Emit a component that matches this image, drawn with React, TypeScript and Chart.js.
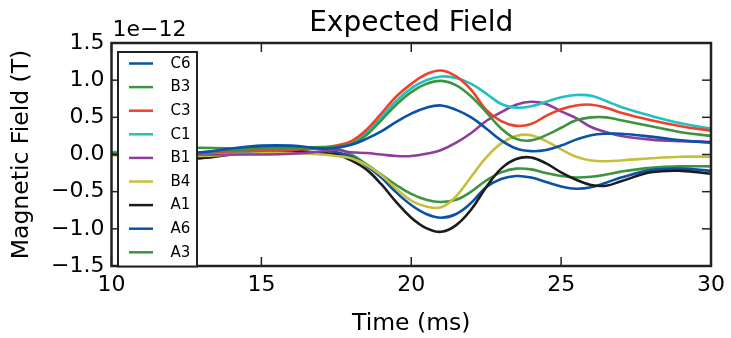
import { useEffect, useRef } from 'react';
import { Chart, registerables } from 'chart.js';

Chart.register(...registerables);

const FONT = '"DejaVu Sans", sans-serif';

// time axis (ms)
const times = [10, 11, 12, 13, 14, 15, 16, 17, 17.5, 18, 18.5, 19, 19.5, 20, 20.5, 21, 21.5, 22, 22.5, 23, 23.5, 24, 24.5, 25, 25.5, 26, 26.5, 27, 28, 29, 30];

// magnetic field, in units of 1e-12 T
const C6 = [0, 0, 0.01, 0.03, 0.08, 0.12, 0.12, 0.08, 0.09, 0.13, 0.21, 0.31, 0.44, 0.55, 0.63, 0.66, 0.6, 0.5, 0.35, 0.19, 0.08, 0.045, 0.06, 0.12, 0.2, 0.26, 0.28, 0.28, 0.24, 0.19, 0.16];
const B3 = [0.02, 0.01, 0.01, 0.03, 0.06, 0.08, 0.09, 0.1, 0.11, 0.14, 0.26, 0.46, 0.67, 0.84, 0.95, 0.99, 0.93, 0.78, 0.57, 0.35, 0.21, 0.19, 0.26, 0.36, 0.46, 0.5, 0.5, 0.46, 0.38, 0.3, 0.25];
const C3 = [0, 0, 0, 0.02, 0.04, 0.05, 0.06, 0.09, 0.12, 0.18, 0.33, 0.55, 0.78, 0.95, 1.08, 1.13, 1.05, 0.87, 0.6, 0.45, 0.385, 0.41, 0.52, 0.61, 0.66, 0.67, 0.63, 0.56, 0.46, 0.38, 0.32];
const C1 = [0.03, 0.02, 0.01, 0.02, 0.03, 0.05, 0.07, 0.09, 0.1, 0.15, 0.29, 0.5, 0.72, 0.89, 1.0, 1.05, 1.03, 0.95, 0.82, 0.68, 0.63, 0.65, 0.71, 0.77, 0.8, 0.79, 0.72, 0.64, 0.52, 0.42, 0.35];
const B1 = [0, 0, -0.01, 0, 0, 0, 0.01, 0.04, 0.06, 0.03, 0.02, 0, -0.02, -0.02, 0.01, 0.06, 0.16, 0.29, 0.45, 0.57, 0.67, 0.71, 0.68, 0.58, 0.49, 0.37, 0.3, 0.25, 0.2, 0.18, 0.17];
const B4 = [-0.01, -0.01, -0.02, -0.02, 0, 0.02, 0.02, 0, -0.02, -0.05, -0.14, -0.28, -0.46, -0.62, -0.7, -0.71, -0.56, -0.3, -0.04, 0.15, 0.25, 0.26, 0.18, 0.07, -0.03, -0.08, -0.09, -0.08, -0.05, -0.03, -0.03];
const A1 = [0.02, 0, -0.04, -0.05, 0, 0.05, 0.05, 0.02, 0, -0.08, -0.2, -0.4, -0.64, -0.85, -0.99, -1.04, -0.95, -0.74, -0.44, -0.19, -0.06, -0.04, -0.12, -0.24, -0.34, -0.41, -0.42, -0.36, -0.24, -0.22, -0.26];
const A6 = [0, 0.01, 0, 0, 0.05, 0.1, 0.1, 0.07, 0.03, -0.03, -0.15, -0.31, -0.51, -0.68, -0.8, -0.85, -0.8, -0.65, -0.44, -0.33, -0.29, -0.31, -0.37, -0.43, -0.46, -0.44, -0.38, -0.31, -0.21, -0.19, -0.22];
const A3 = [0.03, 0.05, 0.08, 0.09, 0.08, 0.06, 0.06, 0.08, 0.08, 0, -0.13, -0.27, -0.41, -0.53, -0.61, -0.64, -0.61, -0.5, -0.35, -0.24, -0.19, -0.2, -0.25, -0.29, -0.31, -0.3, -0.27, -0.23, -0.18, -0.16, -0.16];

const seriesLabels = ['C6', 'B3', 'C3', 'C1', 'B1', 'B4', 'A1', 'A6', 'A3'];
const seriesValues = [C6, B3, C3, C1, B1, B4, A1, A6, A3];
const seriesColors = ['#0a52a6', '#3d9440', '#f0402b', '#22c1c1', '#8e3c9d', '#c5bf3a', '#1c1c1c', '#0a52a6', '#3d9440'];

const xTicks = [10, 15, 20, 25, 30];
const yTicks = [-1.5, -1.0, -0.5, 0, 0.5, 1.0, 1.5];

const titleText = 'Expected Field';
const offsetText = '1e\u221212';
const xTitle = 'Time (ms)';
const yTitle = 'Magnetic Field (T)';

const fmtY = (v: number) => (v < 0 ? '\u2212' : '') + Math.abs(v).toFixed(1);

const mplPlugin = {
  id: 'mplDecor',
  afterDatasetsDraw(chart: any) {
    const { ctx, chartArea: a, scales } = chart;
    ctx.save();
    const seg = (x1: number, y1: number, x2: number, y2: number) => {
      ctx.beginPath();
      ctx.moveTo(x1, y1);
      ctx.lineTo(x2, y2);
      ctx.stroke();
    };
    // inward ticks on all four sides
    ctx.strokeStyle = '#222';
    ctx.lineWidth = 1.5;
    const tl = 9;
    xTicks.forEach((v) => {
      const px = scales.x.getPixelForValue(v);
      seg(px, a.bottom, px, a.bottom - tl);
      seg(px, a.top, px, a.top + tl);
    });
    yTicks.forEach((v) => {
      const py = scales.y.getPixelForValue(v);
      seg(a.left, py, a.left + tl, py);
      seg(a.right, py, a.right - tl, py);
    });
    // frame
    ctx.lineWidth = 2.5;
    ctx.strokeRect(a.left, a.top, a.right - a.left, a.bottom - a.top);

    // legend
    const lx = a.left + 6.5;
    const ly = a.top + 9;
    const lw = 79;
    const lh = a.bottom + 0.5 - ly;
    ctx.fillStyle = '#ffffff';
    ctx.fillRect(lx, ly, lw, lh);
    ctx.lineWidth = 2;
    ctx.strokeStyle = '#222';
    ctx.strokeRect(lx, ly, lw, lh);
    ctx.font = '15px ' + FONT;
    ctx.textBaseline = 'middle';
    ctx.textAlign = 'left';
    chart.data.datasets.forEach((ds: any, i: number) => {
      const yy = ly + 11.5 + i * 23.6;
      ctx.strokeStyle = ds.borderColor;
      ctx.lineWidth = 2.5;
      seg(lx + 11, yy, lx + 35, yy);
      ctx.fillStyle = '#000';
      ctx.fillText(ds.label, lx + 52.5, yy + 0.5);
    });

    // title and offset text
    ctx.fillStyle = '#000';
    ctx.textBaseline = 'alphabetic';
    ctx.textAlign = 'center';
    ctx.font = '28px ' + FONT;
    ctx.fillText(titleText, (a.left + a.right) / 2, 31);
    ctx.textAlign = 'left';
    ctx.font = '22px ' + FONT;
    ctx.fillText(offsetText, a.left + 1, 36);
    ctx.restore();
  },
};

export default function App() {
  const ref = useRef<HTMLCanvasElement | null>(null);
  useEffect(() => {
    document.body.style.margin = '0';
    if (!ref.current) return;
    const chart = new Chart(ref.current, {
      type: 'line',
      data: {
        datasets: seriesLabels.map((label, i) => ({
          label,
          data: times.map((t, j) => ({ x: t, y: seriesValues[i][j] })),
          borderColor: seriesColors[i],
          backgroundColor: seriesColors[i],
          borderWidth: 2.6,
          pointRadius: 0,
          tension: 0.4,
          fill: false,
        })),
      },
      options: {
        animation: false,
        responsive: true,
        maintainAspectRatio: false,
        layout: { padding: { top: 43, right: 19.5, left: 0, bottom: 0 } },
        plugins: {
          legend: { display: false },
          title: { display: false },
          tooltip: { enabled: false },
        },
        scales: {
          x: {
            type: 'linear',
            min: 10,
            max: 30,
            afterFit: (s: any) => { s.height = 72; },
            afterBuildTicks: (s: any) => { s.ticks = xTicks.map((v) => ({ value: v })); },
            grid: { display: false, drawTicks: false },
            border: { display: false },
            ticks: {
              color: '#000',
              font: { family: FONT, size: 22 },
              padding: 6,
              maxRotation: 0,
              callback: (v: any) => String(v),
            },
            title: {
              display: true,
              text: xTitle,
              color: '#000',
              font: { family: FONT, size: 23.5 },
              padding: { top: 0, bottom: 0 },
            },
          },
          y: {
            type: 'linear',
            min: -1.5,
            max: 1.5,
            afterFit: (s: any) => { s.width = 111.5; },
            afterBuildTicks: (s: any) => { s.ticks = yTicks.map((v) => ({ value: v })); },
            grid: { display: false, drawTicks: false },
            border: { display: false },
            ticks: {
              color: '#000',
              font: { family: FONT, size: 22 },
              padding: 7,
              callback: (v: any) => fmtY(Number(v)),
            },
            title: {
              display: true,
              text: yTitle,
              color: '#000',
              font: { family: FONT, size: 23.5 },
              padding: { top: 8, bottom: 0 },
            },
          },
        },
      },
      plugins: [mplPlugin],
    });
    return () => chart.destroy();
  }, []);
  return (
    <div style={{ position: 'absolute', left: 0, top: 0, width: 731, height: 338 }}>
      <canvas ref={ref} />
    </div>
  );
}
